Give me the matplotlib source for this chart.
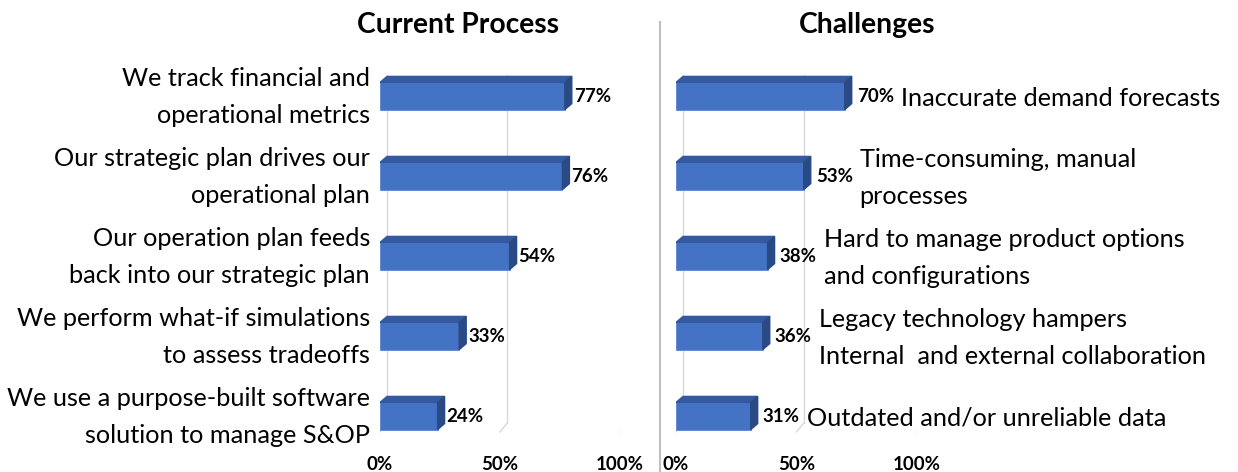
import matplotlib
matplotlib.use('Agg')
import matplotlib.pyplot as plt
from matplotlib.patches import Polygon
from matplotlib.lines import Line2D

# Data
process_labels = [
    'We track financial and\noperational metrics',
    'Our strategic plan drives our\noperational plan',
    'Our operation plan feeds\nback into our strategic plan',
    'We perform what-if simulations\nto assess tradeoffs',
    'We use a purpose-built software\nsolution to manage S&OP',
]
process_values = [77, 76, 54, 33, 24]

challenge_labels = [
    'Inaccurate demand forecasts',
    'Time-consuming, manual\nprocesses',
    'Hard to manage product options\nand configurations',
    'Legacy technology hampers\nInternal  and external collaboration',
    'Outdated and/or unreliable data',
]
challenge_values = [70, 53, 38, 36, 31]

tick_values = [0, 50, 100]
tick_labels = ['0%', '50%', '100%']

plt.rcParams['font.family'] = ['Lato', 'DejaVu Sans']

W, H = 1238, 472
fig = plt.figure(figsize=(W / 100, H / 100), dpi=100)

FRONT = '#4472C4'
TOP = '#3459A0'
SIDE = '#2A4A86'
GRID = '#D9D9D9'

ROW_PX = 80      # pixels per category row
DEPTH_X = 7      # 3d depth offset in pixels
DEPTH_Y = 6
BAR_H = 0.34
PT = 0.72        # points per pixel at dpi 100

LABEL_SIZE = 18.2
LINESP = 1.75


def px_axes(left, right, top, bottom):
    return fig.add_axes([left / W, 1 - bottom / H, (right - left) / W, (bottom - top) / H])


def draw_panel(ax, values, width_px):
    n = len(values)
    sx = width_px / 100.0
    dx = DEPTH_X / sx
    dy = DEPTH_Y / ROW_PX
    ax.set_xlim(0, 100)
    ax.set_ylim(n - 0.5, -0.5)

    # back wall gridlines with a short floor segment
    grid_top, grid_bot, floor = -0.26, 4.09, 4.2
    for t in tick_values:
        ax.plot([t + dx, t + dx], [grid_top, grid_bot], color=GRID, lw=1, zorder=1)
        ax.plot([t + dx, t], [grid_bot, floor], color=GRID, lw=1, zorder=1)

    ax.barh(range(n), values, height=BAR_H, color=FRONT, edgecolor='#5B86D0',
            linewidth=0.6, zorder=3)
    for i, v in enumerate(values):
        top = i - BAR_H / 2
        ax.add_patch(Polygon([(0, top), (dx, top - dy), (v + dx, top - dy), (v, top)],
                             closed=True, color=TOP, zorder=3))
        ax.add_patch(Polygon([(v, top), (v + dx, top - dy), (v + dx, top - dy + BAR_H),
                              (v, top + BAR_H)], closed=True, color=SIDE, zorder=3))

    ax.set_xticks(tick_values)
    ax.set_xticklabels(tick_labels, fontsize=13.5, fontweight='bold')
    ax.tick_params(axis='x', length=0, pad=0)
    ax.set_yticks([])
    for s in ax.spines.values():
        s.set_visible(False)
    ax.patch.set_alpha(0)


# Left panel
ax1 = px_axes(380, 620, 56, 456)
draw_panel(ax1, process_values, 240)
for i, v in enumerate(process_values):
    ax1.annotate(process_labels[i], (0, i), xytext=(-10 * PT, -1 * PT), textcoords='offset points',
                 ha='right', va='center', fontsize=LABEL_SIZE, linespacing=LINESP,
                 annotation_clip=False)
    ax1.annotate(f'{v}%', (v, i), xytext=(9 * PT, 0), textcoords='offset points',
                 ha='left', va='center', fontsize=13.5, fontweight='bold')

# Right panel
ax2 = px_axes(676, 917, 56, 456)
draw_panel(ax2, challenge_values, 241)
for i, v in enumerate(challenge_values):
    ax2.annotate(f'{v}%', (v, i), xytext=(12 * PT, 0), textcoords='offset points',
                 ha='left', va='center', fontsize=13.5, fontweight='bold')
    ax2.annotate(challenge_labels[i], (v, i), xytext=(56 * PT, -2 * PT), textcoords='offset points',
                 ha='left', va='center', fontsize=LABEL_SIZE, linespacing=LINESP,
                 annotation_clip=False)

# Titles
fig.text(458 / W, 1 - 25 / H, 'Current Process', ha='center', va='center',
         fontsize=20.3, fontweight='bold')
fig.text(867 / W, 1 - 25 / H, 'Challenges', ha='center', va='center',
         fontsize=20.3, fontweight='bold')

# Divider
fig.add_artist(Line2D([660 / W, 660 / W], [0, 1 - 22 / H], color='#BFBFBF', lw=1.5,
                      transform=fig.transFigure))

fig.savefig('out.png', dpi=100)
